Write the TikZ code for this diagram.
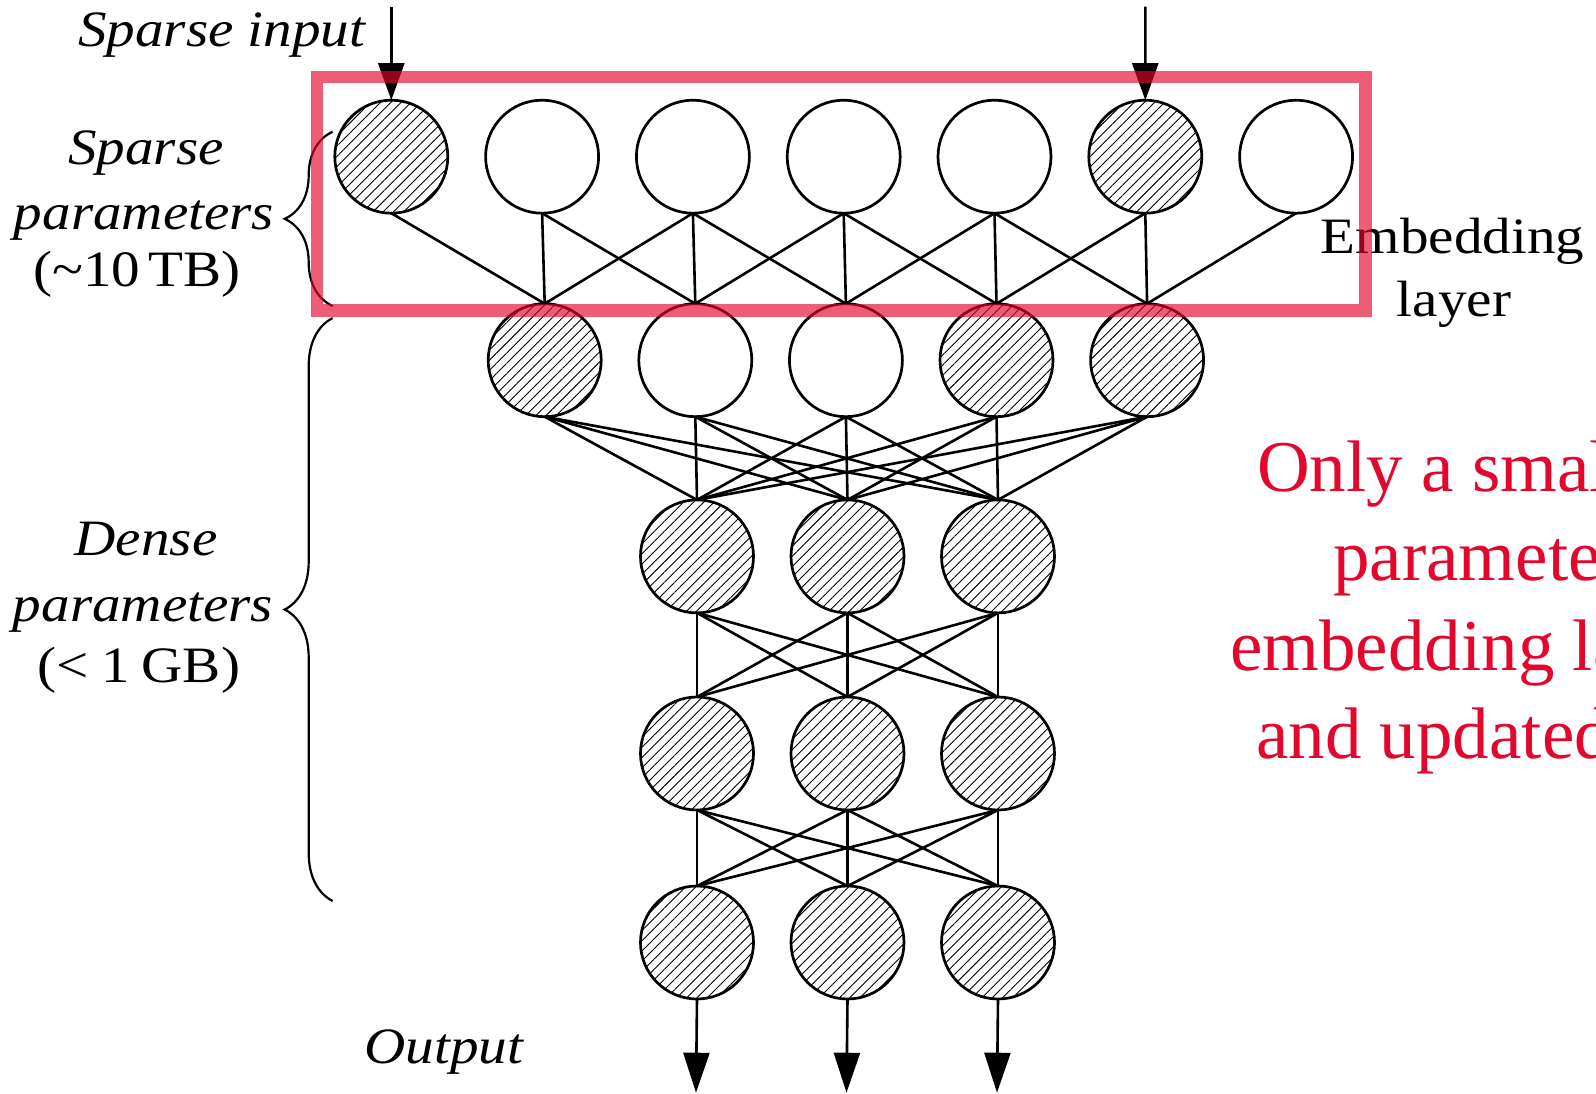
\documentclass[tikz,border=0pt]{standalone}
\usepackage{fontspec}
\setmainfont{Liberation Serif}[FakeStretch=1.12]
\newfontfamily\redfont{Liberation Serif}
\usetikzlibrary{arrows.meta,patterns.meta,decorations.pathreplacing}
\definecolor{hlred}{RGB}{227,6,45}
\begin{document}
\begin{tikzpicture}[x=1pt,y=-1pt,
  neuron/.style={circle,draw,line width=2.7pt,minimum size=113pt,inner sep=0pt,outer sep=0pt,fill=white},
  hatched/.style={neuron,postaction={pattern={Lines[angle=45,distance=7.2pt,line width=0.9pt]},pattern color=black}},
  conn/.style={line width=2.6pt},
  inarrow/.style={line width=2.6pt,-{Triangle[width=26pt,length=37pt]}},
  outarrow/.style={line width=2.6pt,-{Triangle[width=26pt,length=40pt]}},
  bracestyle/.style={line width=2.2pt,decorate,decoration={brace,amplitude=48pt}},
  lbl/.style={font=\fontsize{51}{61}\selectfont,inner sep=0pt,anchor=base},
  ilbl/.style={lbl,font=\fontsize{51}{61}\selectfont\itshape},
  redlbl/.style={font=\redfont\fontsize{73}{88}\selectfont,text=hlred,inner sep=0pt,anchor=base west},
  hlbox/.style={draw=hlred,draw opacity=0.65,line width=12.4pt}
]
\useasboundingbox (0,0) rectangle (1596,1094);
\clip (0,0) rectangle (1596,1094);

% layer 1 (embedding)
\foreach \i/\s in {0/hatched,1/neuron,2/neuron,3/neuron,4/neuron,5/hatched,6/neuron}
  \node[\s] (a\i) at ({391.3+150.8*\i},156.7) {};
% layer 2
\foreach \j/\s in {0/hatched,1/neuron,2/neuron,3/hatched,4/hatched}
  \node[\s] (b\j) at ({544.7+150.6*\j},360.2) {};
% layers 3-5
\foreach \k in {0,1,2} {
  \node[hatched] (c\k) at ({697+150.5*\k},556.4) {};
  \node[hatched] (d\k) at ({697+150.5*\k},753.5) {};
  \node[hatched] (e\k) at ({697+150.5*\k},942.5) {};
}

% connections
\foreach \j in {0,...,4} \foreach \d in {0,1,2} {
  \pgfmathtruncatemacro\ii{\j+\d}
  \draw[conn] (a\ii.south) -- (b\j.north);
}
\foreach \j in {0,...,4} \foreach \k in {0,1,2}
  \draw[conn] (b\j.south) -- (c\k.north);
\foreach \j in {0,1,2} \foreach \k in {0,1,2} {
  \draw[conn] (c\j.south) -- (d\k.north);
  \draw[conn] (d\j.south) -- (e\k.north);
}

% input arrows
\coordinate (in0) at (391.3,6.7);
\coordinate (in5) at (1145.3,6.7);
\draw[inarrow] (in0) -- (a0.north);
\draw[inarrow] (in5) -- (a5.north);

% output arrows
\foreach \k in {0,1,2} {
  \coordinate (o\k) at ({696+150.5*\k},1092.7);
  \draw[outarrow] (e\k.south) -- (o\k);
}

% braces
\coordinate (sb1) at (332.7,306);
\coordinate (sb2) at (332.7,131.7);
\coordinate (db1) at (332.7,901);
\coordinate (db2) at (332.7,318);
\draw[bracestyle] (sb1) -- (sb2);
\draw[bracestyle] (db1) -- (db2);

% labels
\node[ilbl] (tin) at (221.7,46.7) {Sparse input};
\node[ilbl] (sp1) at (146,165) {Sparse};
\node[ilbl] (sp2) at (144,230) {parameters};
\node[lbl] (sp3) at (137,287) {(\textasciitilde10\hspace{8pt}TB)};
\node[lbl] (de3) at (139,682) {(<\hspace{12pt}1\hspace{12pt}GB)};
\node[ilbl] (de1) at (146,555) {Dense};
\node[ilbl] (de2) at (143,621) {parameters};
\node[ilbl] (tout) at (443.8,1063.7) {Output};
\node[lbl] (emb1) at (1452.5,253.3) {Embedding};
\node[lbl] (emb2) at (1454,316.7) {layer};

\node[redlbl] (r1) at (1257,491.7) {Only a small};
\node[redlbl] (r2) at (1333,580) {parameters};
\node[redlbl] (r3) at (1230,670) {embedding layer};
\node[redlbl] (r4) at (1256,758.3) {and updated};

% highlight box
\draw[hlbox] (316.7,77.2) rectangle (1365.5,310.5);
\end{tikzpicture}
\end{document}
